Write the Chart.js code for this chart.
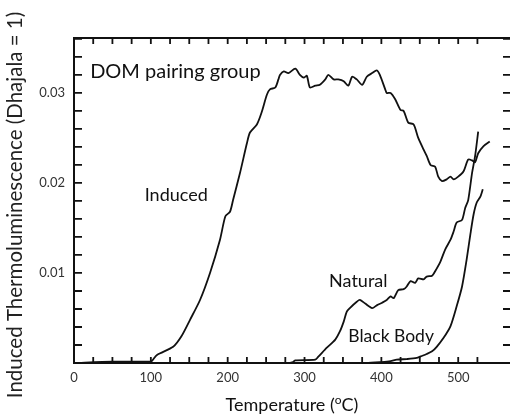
<!DOCTYPE html>
<html>
<head>
<meta charset="utf-8">
<script src="https://cdn.jsdelivr.net/npm/chart.js@4"></script>
<style>
  html, body { margin: 0; padding: 0; background: #fff; overflow: hidden; }
  canvas { display: block; }
</style>
</head>
<body>
<canvas id="myChart" width="520" height="419"></canvas>
<script>
// temperatures (deg C) and signal
const inducedT = [0, 50, 100, 102, 108, 129, 140, 151, 164, 177, 190, 197, 203, 207, 216, 225, 229, 238,
  244, 251, 255, 262, 266, 268, 273, 279, 288, 294, 299, 303, 307, 314, 320, 327, 331, 338, 344, 351,
  357, 362, 368, 375, 381, 388, 394, 398, 405, 407, 412, 418, 425, 429, 435, 442, 448, 455, 459, 464,
  470, 474, 479, 485, 490, 494, 500, 507, 513, 518, 522, 526, 533, 541];
const inducedV = [0, 0.00015, 0.00015, 0.0003, 0.0009, 0.0018, 0.003, 0.0048, 0.007, 0.01, 0.0137,
  0.0163, 0.0168, 0.0181, 0.0211, 0.0244, 0.0256, 0.0265, 0.0278, 0.0298, 0.0304, 0.0306, 0.0315,
  0.032, 0.0324, 0.0322, 0.0327, 0.032, 0.0317, 0.0319, 0.0306, 0.0308, 0.0309, 0.0315, 0.032, 0.0315,
  0.0315, 0.0313, 0.0308, 0.0318, 0.0315, 0.0309, 0.0318, 0.0322, 0.0325, 0.032, 0.0304, 0.03, 0.03,
  0.0293, 0.0281, 0.028, 0.0267, 0.0265, 0.025, 0.0237, 0.023, 0.022, 0.0218, 0.0207, 0.0202, 0.0204,
  0.0207, 0.0204, 0.0207, 0.0213, 0.0226, 0.0225, 0.0223, 0.0233, 0.0241, 0.0246];

const naturalT = [0, 277, 285, 288, 314, 318, 329, 340, 346, 351, 355, 359, 368, 372, 379, 388, 394, 401,
  407, 412, 416, 422, 429, 433, 438, 444, 448, 455, 459, 466, 470, 477, 483, 490, 494, 498, 505, 509,
  513, 518, 522, 526];
const naturalV = [0, 0, 0.0001, 0.0003, 0.00037, 0.0007, 0.0017, 0.0026, 0.0035, 0.0046, 0.0057, 0.0061,
  0.0068, 0.007, 0.0066, 0.0061, 0.0064, 0.0067, 0.007, 0.0074, 0.0072, 0.0081, 0.0082, 0.0085, 0.0091,
  0.0089, 0.0094, 0.0093, 0.0096, 0.0097, 0.0102, 0.0113, 0.0126, 0.0137, 0.0146, 0.0156, 0.0159,
  0.0172, 0.0181, 0.0211, 0.023, 0.0257];

const blackBodyT = [0, 380, 400, 412, 420, 433, 446, 451, 459, 466, 472, 481, 490, 498, 505, 511, 516,
  520, 524, 529, 532];
const blackBodyV = [0, 0, 0.0001, 0.0002, 0.00037, 0.00044, 0.00056, 0.00073, 0.001, 0.0013, 0.0018,
  0.0028, 0.0041, 0.0063, 0.0085, 0.0115, 0.0144, 0.0165, 0.0178, 0.0185, 0.0193];

const xLabels = [0, 100, 200, 300, 400, 500];
const yLabels = [0.01, 0.02, 0.03];

const FONT = 'Lato, "Open Sans", sans-serif';

function pts(xs, ys) {
  return xs.map((x, i) => ({ x: x, y: ys[i] }));
}

function line(label, xs, ys) {
  return {
    label: label,
    data: pts(xs, ys),
    borderColor: '#111',
    borderWidth: 1.8,
    pointRadius: 0,
    tension: 0.25,
    fill: false,
  };
}

// inward ticks on all four sides, labels on the curves, x title with superscript o
const frame = {
  id: 'frame',
  afterDraw(chart) {
    const c = chart.ctx;
    const area = chart.chartArea;
    const xs = chart.scales.x;
    const ys = chart.scales.y;
    c.save();
    c.strokeStyle = '#111';
    c.lineWidth = 2;
    c.beginPath();
    c.moveTo(area.left, area.top);
    c.lineTo(area.right, area.top);
    c.stroke();

    c.lineWidth = 1.8;
    c.beginPath();
    xs.ticks.forEach((t) => {
      if (t.value <= 0 || t.value > 525) return;
      const px = xs.getPixelForValue(t.value);
      c.moveTo(px, area.bottom);
      c.lineTo(px, area.bottom - 6);
      c.moveTo(px, area.top);
      c.lineTo(px, area.top + 6);
    });
    ys.ticks.forEach((t) => {
      if (t.value <= 0.0001) return;
      const py = ys.getPixelForValue(t.value);
      c.moveTo(area.left, py);
      c.lineTo(area.left + 8, py);
      c.moveTo(area.right, py);
      c.lineTo(area.right - 9, py);
    });
    c.stroke();

    c.fillStyle = '#111';
    c.textBaseline = 'middle';
    c.textAlign = 'left';
    const notes = [
      ['DOM pairing group', 21, 0.03237, 20],
      ['Induced', 92, 0.0186, 18],
      ['Natural', 332, 0.00914, 18],
      ['Black Body', 357, 0.00292, 17.5],
    ];
    notes.forEach(([txt, t, v, size]) => {
      c.font = size + 'px ' + FONT;
      c.fillText(txt, xs.getPixelForValue(t), ys.getPixelForValue(v));
    });

    // x title
    const cx = (area.left + 510) / 2;
    const ty = 405;
    const a = 'Temperature (';
    const b = 'C)';
    c.font = '18px ' + FONT;
    const wa = c.measureText(a).width;
    const wb = c.measureText(b).width;
    c.font = '12px ' + FONT;
    const wo = c.measureText('o').width;
    const x0 = cx - (wa + wo + wb) / 2;
    c.font = '18px ' + FONT;
    c.fillText(a, x0, ty);
    c.font = '12px ' + FONT;
    c.fillText('o', x0 + wa, ty - 5);
    c.font = '18px ' + FONT;
    c.fillText(b, x0 + wa + wo, ty);

    // y title, centred a little below the plot middle like the original
    c.translate(15, 205);
    c.rotate(-Math.PI / 2);
    c.textAlign = 'center';
    c.fillStyle = '#222';
    c.font = '20.5px ' + FONT;
    c.fillText('Induced Thermoluminescence (Dhajala = 1)', 0, 0);
    c.restore();
  },
};

const ctx = document.querySelector('#myChart');
// eslint-disable-next-line no-unused-vars
const tlChart = new Chart(ctx, {
  type: 'line',
  data: {
    datasets: [
      line('Induced', inducedT, inducedV),
      line('Natural', naturalT, naturalV),
      line('Black Body', blackBodyT, blackBodyV),
    ],
  },
  options: {
    responsive: false,
    animation: false,
    layout: { padding: { top: 38, right: 8, left: 0, bottom: 0 } },
    plugins: {
      legend: { display: false },
      tooltip: { enabled: false },
    },
    scales: {
      x: {
        type: 'linear',
        min: 0,
        max: 570,
        afterFit: (scale) => { scale.height = 56; },
        border: { display: true, color: '#111', width: 2 },
        grid: { display: false, drawTicks: false },
        ticks: {
          stepSize: 25,
          includeBounds: false,
          autoSkip: false,
          maxRotation: 0,
          padding: 7,
          color: '#333',
          font: { family: FONT, size: 13 },
          callback: (v) => (xLabels.includes(v) ? String(v) : ''),
        },
      },
      y: {
        min: 0,
        max: 0.0361,
        afterFit: (scale) => { scale.width = 74; },
        border: { display: true, color: '#111', width: 2 },
        grid: { display: false, drawTicks: false },
        ticks: {
          stepSize: 0.002,
          includeBounds: false,
          autoSkip: false,
          padding: 9,
          color: '#333',
          font: { family: FONT, size: 13 },
          callback: (v) => {
            const r = Math.round(v * 1000) / 1000;
            return yLabels.includes(r) ? r.toFixed(2) : '';
          },
        },
      },
    },
  },
  plugins: [frame],
});
</script>
</body>
</html>
